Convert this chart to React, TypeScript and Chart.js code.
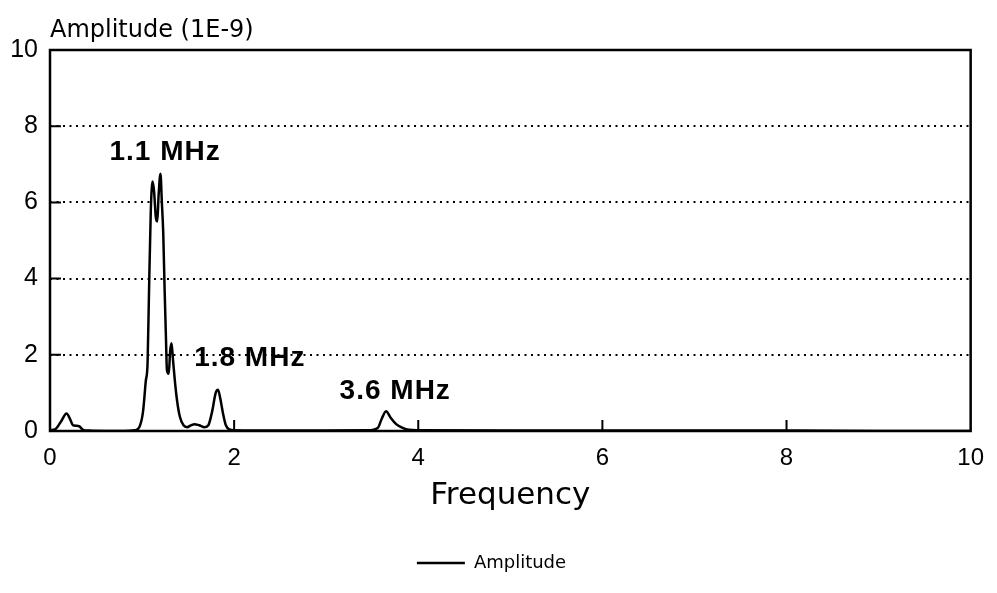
import React, { useEffect, useRef } from "react";
import { Chart, registerables } from "chart.js";

Chart.register(...registerables);

// ---- data ----
const frequency = [
  0, 0.06, 0.12, 0.18, 0.22, 0.25, 0.29, 0.32, 0.36, 0.42,
  0.6, 0.8, 0.92, 0.97, 1.01, 1.04, 1.06, 1.075, 1.095, 1.115,
  1.13, 1.15, 1.165, 1.18, 1.2, 1.215, 1.23, 1.245, 1.26, 1.27,
  1.29, 1.305, 1.32, 1.335, 1.355, 1.38, 1.41, 1.45, 1.49, 1.53,
  1.57, 1.62, 1.68, 1.72, 1.76, 1.8, 1.825, 1.85, 1.88, 1.91,
  1.95, 2.0, 2.5, 3.0, 3.45, 3.56, 3.6, 3.65, 3.7, 3.76,
  3.83, 3.9, 4.0, 5.0, 6.0, 7.0, 8.0, 9.0, 10.0,
];
const amplitude = [
  0.02, 0.05, 0.25, 0.46, 0.3, 0.15, 0.14, 0.12, 0.03, 0.01,
  0, 0, 0.02, 0.1, 0.5, 1.3, 1.8, 3.6, 5.8, 6.55,
  6.3, 5.6, 5.5, 6.2, 6.75, 6.0, 5.2, 3.7, 2.4, 1.6,
  1.5, 2.1, 2.3, 1.9, 1.35, 0.8, 0.38, 0.15, 0.1, 0.15,
  0.18, 0.15, 0.1, 0.15, 0.5, 1.0, 1.08, 0.85, 0.45, 0.15,
  0.04, 0.02, 0.01, 0.01, 0.02, 0.08, 0.3, 0.52, 0.35, 0.18,
  0.08, 0.03, 0.02, 0.01, 0.01, 0.01, 0.01, 0, 0,
];
const xTickValues = [0, 2, 4, 6, 8, 10];
const yTickValues = [0, 2, 4, 6, 8, 10];
const peakLabels = ["1.1 MHz", "1.8 MHz", "3.6 MHz"];
const peakLabelX = [1.25, 2.17, 3.75];
const peakLabelY = [7.32, 1.92, 1.05];
const yAxisCaption = "Amplitude (1E-9)";
const xAxisCaption = "Frequency";
const seriesName = "Amplitude";

const framePlugin = {
  id: "frame",
  afterDatasetsDraw(chart: any) {
    const { ctx, chartArea: a, scales } = chart;
    ctx.save();
    ctx.strokeStyle = "#000";
    ctx.lineWidth = 2.5;
    ctx.setLineDash([]);
    ctx.strokeRect(a.left, a.top, a.right - a.left, a.bottom - a.top);
    ctx.lineWidth = 2;
    ctx.beginPath();
    for (const v of xTickValues) {
      if (v === xTickValues[0] || v === xTickValues[xTickValues.length - 1]) continue;
      const px = scales.x.getPixelForValue(v);
      ctx.moveTo(px, a.bottom);
      ctx.lineTo(px, a.bottom - 11);
    }
    for (const v of yTickValues) {
      if (v === yTickValues[0] || v === yTickValues[yTickValues.length - 1]) continue;
      const py = scales.y.getPixelForValue(v);
      ctx.moveTo(a.left, py);
      ctx.lineTo(a.left + 11, py);
    }
    ctx.stroke();

    ctx.fillStyle = "#000";
    ctx.font = '24px "DejaVu Sans"';
    ctx.textAlign = "left";
    ctx.textBaseline = "alphabetic";
    ctx.fillText(yAxisCaption, a.left, a.top - 13);

    ctx.font = 'bold 28px "Liberation Sans"';
    (ctx as any).letterSpacing = "1px";
    ctx.textAlign = "center";
    ctx.textBaseline = "middle";
    peakLabels.forEach((t, i) => {
      ctx.fillText(t, scales.x.getPixelForValue(peakLabelX[i]), scales.y.getPixelForValue(peakLabelY[i]));
    });
    ctx.restore();
  },
};

export default function App() {
  const ref = useRef<HTMLCanvasElement | null>(null);
  useEffect(() => {
    document.body.style.margin = "0";
    if (!ref.current) return;
    Chart.defaults.font.family = '"Liberation Sans"';
    Chart.defaults.color = "#000";
    const chart = new Chart(ref.current, {
      type: "line",
      data: {
        datasets: [
          {
            label: seriesName,
            data: frequency.map((f, i) => ({ x: f, y: amplitude[i] })),
            borderColor: "#000",
            backgroundColor: "#000",
            borderWidth: 2.5,
            pointRadius: 0,
            pointStyle: "line",
            cubicInterpolationMode: "monotone",
            fill: false,
          },
        ],
      },
      options: {
        animation: false,
        responsive: true,
        maintainAspectRatio: false,
        layout: { padding: { top: 50, left: 8, right: 22, bottom: 11 } },
        plugins: {
          tooltip: { enabled: false },
          legend: {
            position: "bottom",
            labels: {
              usePointStyle: true,
              pointStyleWidth: 48,
              color: "#000",
              font: { family: '"DejaVu Sans"', size: 18 },
              padding: 10,
            },
          },
        },
        scales: {
          x: {
            type: "linear",
            min: 0,
            max: 10,
            afterBuildTicks: (s: any) => {
              s.ticks = xTickValues.map((v) => ({ value: v }));
            },
            afterFit: (s: any) => {
              s.height = 113;
            },
            grid: { display: false, drawTicks: false },
            border: { display: false },
            ticks: {
              font: { family: '"Liberation Sans"', size: 24 },
              color: "#000",
              padding: 13,
              maxRotation: 0,
            },
            title: {
              display: true,
              text: xAxisCaption,
              color: "#000",
              font: { family: '"DejaVu Sans"', size: 31 },
              padding: { top: 0, bottom: 29 },
            },
          },
          y: {
            type: "linear",
            min: 0,
            max: 10,
            afterBuildTicks: (s: any) => {
              s.ticks = yTickValues.map((v) => ({ value: v }));
            },
            afterFit: (s: any) => {
              s.width = 42;
            },
            grid: {
              drawTicks: false,
              lineWidth: 2,
              color: (c: any) =>
                c.tick && (c.tick.value === yTickValues[0] || c.tick.value === yTickValues[yTickValues.length - 1])
                  ? "rgba(0,0,0,0)"
                  : "#000",
            },
            border: { display: false, dash: [2, 4.5] },
            ticks: {
              font: { family: '"Liberation Sans"', size: 25 },
              color: "#000",
              padding: 12,
            },
          },
        },
      },
      plugins: [framePlugin],
    });
    return () => chart.destroy();
  }, []);
  return (
    <div style={{ position: "relative", width: 997, height: 593 }}>
      <canvas ref={ref} />
    </div>
  );
}
